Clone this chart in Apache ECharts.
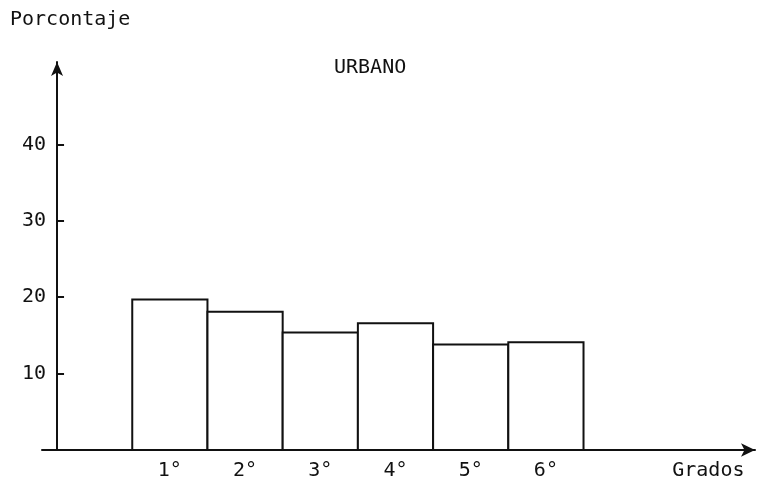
<!DOCTYPE html>
<html>
<head>
<meta charset="utf-8">
<script src="https://cdn.jsdelivr.net/npm/echarts@6/dist/echarts.min.js"></script>
<style>html,body{margin:0;padding:0;background:#fff;}#c{width:759px;height:486px;}</style>
</head>
<body>
<div id="c"></div>
<script>
const categories = ['1°', '2°', '3°', '4°', '5°', '6°'];
const values = [19.7, 18.1, 15.4, 16.6, 13.8, 14.1];
const yTicks = [10, 20, 30, 40];
const xName = 'Grados';
const yName = 'Porcontaje';
const titleText = 'URBANO';

const FONT = '"DejaVu Sans Mono", "Liberation Mono", monospace';
const INK = '#111';
const xNamePos = 8.66;
const catPos = categories.map((c, i) => i + 1.5);

const chart = echarts.init(document.getElementById('c'), null, {renderer: 'canvas'});
chart.setOption({
  animation: false,
  backgroundColor: '#fff',
  title: [
    {text: yName, left: 10, top: 10, padding: 0,
     textStyle: {fontFamily: FONT, fontSize: 20, fontWeight: 'normal', color: INK}},
    {text: titleText, left: 334, top: 58, padding: 0,
     textStyle: {fontFamily: FONT, fontSize: 20, fontWeight: 'normal', color: INK}}
  ],
  grid: {left: 42, right: 4, top: 62, bottom: 36, containLabel: false, outerBoundsMode: 'none'},
  xAxis: {
    type: 'value', min: -0.2, max: 9.28,
    splitLine: {show: false},
    axisTick: {show: false},
    axisLine: {onZero: true, symbol: ['none', 'arrow'], symbolSize: [10, 14],
               lineStyle: {color: INK, width: 2}},
    axisLabel: {
      customValues: catPos.concat([xNamePos]),
      formatter: function (v) {
        for (let i = 0; i < catPos.length; i++) if (Math.abs(catPos[i] - v) < 1e-6) return categories[i];
        if (Math.abs(v - xNamePos) < 1e-6) return xName;
        return '';
      },
      margin: 11, fontFamily: FONT, fontSize: 20, color: INK
    }
  },
  yAxis: {
    type: 'value', min: 0, max: 50.8,
    splitLine: {show: false},
    axisLine: {onZero: true, symbol: ['none', 'arrow'], symbolSize: [9, 14],
               lineStyle: {color: INK, width: 2}},
    axisTick: {inside: true, length: 7, customValues: yTicks, lineStyle: {color: INK, width: 2}},
    axisLabel: {customValues: yTicks, margin: -4, fontFamily: FONT, fontSize: 20, color: INK}
  },
  series: [{
    type: 'custom',
    data: values.map((v, i) => [i + 1, v]),
    renderItem: function (params, api) {
      const x0 = api.value(0), v = api.value(1);
      const p0 = api.coord([x0, v]);
      const p1 = api.coord([x0 + 1, 0]);
      return {
        type: 'rect',
        shape: {x: p0[0], y: p0[1], width: p1[0] - p0[0], height: p1[1] - p0[1]},
        style: {fill: '#fff', stroke: INK, lineWidth: 2}
      };
    }
  }]
});
</script>
</body>
</html>
